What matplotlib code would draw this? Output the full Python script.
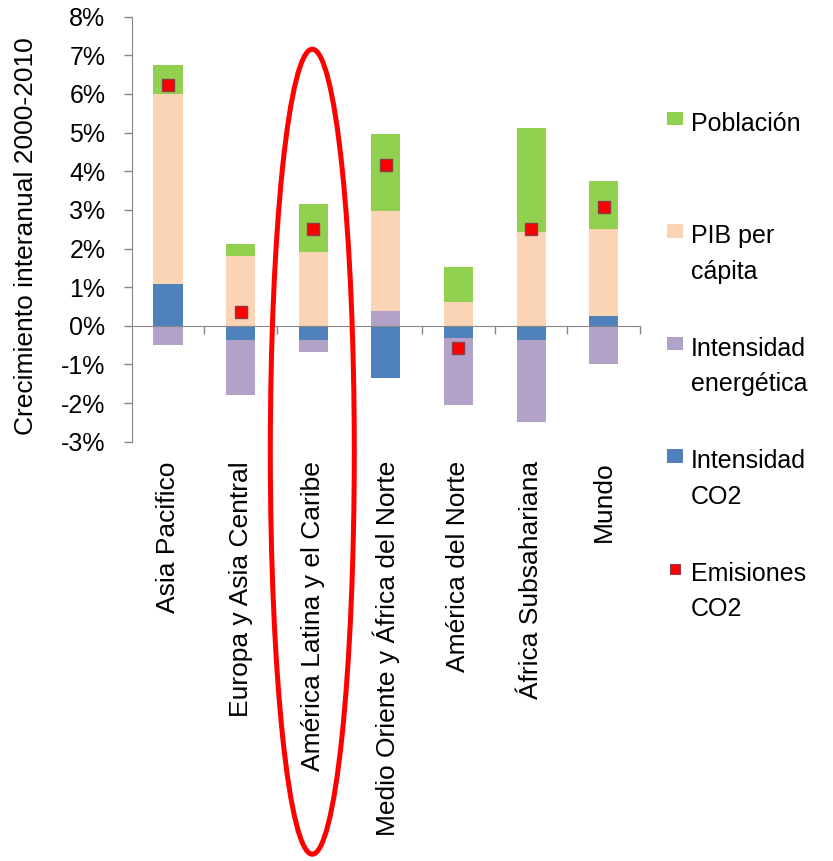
import matplotlib
matplotlib.use("Agg")
import matplotlib.pyplot as plt
import numpy as np
from matplotlib.patches import Ellipse, Patch
from matplotlib.lines import Line2D
from matplotlib.ticker import FuncFormatter

plt.rcParams['font.family'] = ['Liberation Sans', 'DejaVu Sans']

# ---------------- data (percentage points, 2000-2010 annual growth) ----------------
categories = ["Asia Pacifico", "Europa y Asia Central", "América Latina y el Caribe",
              "Medio Oriente y África del Norte", "América del Norte",
              "África Subsahariana", "Mundo"]
poblacion = [0.74, 0.31, 1.22, 1.99, 0.92, 2.68, 1.23]
pib_per_capita = [4.93, 1.81, 1.92, 2.59, 0.61, 2.44, 2.25]
intensidad_energetica = [-0.50, -1.41, -0.30, 0.39, -1.74, -2.12, -1.00]
intensidad_co2 = [1.07, -0.37, -0.37, -1.35, -0.31, -0.37, 0.26]
emisiones_co2 = [6.24, 0.35, 2.50, 4.16, -0.57, 2.50, 3.07]

y_ticks = list(range(-3, 9))
y_label = "Crecimiento interanual 2000-2010"
legend_labels = ["Población\n", "PIB per\ncápita", "Intensidad\nenergética",
                 "Intensidad\nCO2", "Emisiones\nCO2"]

c_pob = "#92D050"
c_pib = "#FAD4B4"
c_ene = "#B3A2C7"
c_co2 = "#4F81BD"
c_emi = "#FF0000"
grey = "#868686"

W, H = 833, 861
fig = plt.figure(figsize=(W / 100, H / 100), dpi=100)
fig.patch.set_facecolor("white")
ax = fig.add_axes([131.7 / W, 1 - 441.7 / H, (640 - 131.7) / W, (441.7 - 16.7) / H])

x = np.arange(len(categories))
n = len(categories)
pos = np.zeros(n)
neg = np.zeros(n)
for vals, color in [(intensidad_co2, c_co2), (intensidad_energetica, c_ene),
                    (pib_per_capita, c_pib), (poblacion, c_pob)]:
    v = np.asarray(vals, dtype=float)
    bottom = np.where(v >= 0, pos, neg)
    ax.bar(x, v, 0.4, bottom=bottom, color=color, linewidth=0, zorder=2)
    pos += np.where(v >= 0, v, 0)
    neg += np.where(v < 0, v, 0)

ax.scatter(x, emisiones_co2, marker="s", s=68, color=c_emi,
           edgecolors="#8E3B46", linewidths=1.0, zorder=4)

ax.set_xlim(-0.5, n - 0.5)
ax.set_ylim(-3, 8)
ax.set_yticks(y_ticks)
ax.yaxis.set_major_formatter(FuncFormatter(lambda v, p: f"{v:.0f}%"))
ax.tick_params(axis="y", direction="out", length=6, width=1, color=grey,
               labelsize=18, pad=13)

ax.set_xticks(np.arange(0.5, n, 1.0))
ax.set_xticklabels([])
ax.tick_params(axis="x", direction="out", length=6, width=1, color=grey)

for s in ["top", "right"]:
    ax.spines[s].set_visible(False)
ax.spines["left"].set_color(grey)
ax.spines["bottom"].set_color(grey)
ax.spines["bottom"].set_position(("data", 0))

sec = ax.secondary_xaxis(0)
sec.set_xticks(x, labels=categories)
sec.tick_params(length=0, pad=14, labelsize=19, labelrotation=90)
sec.spines["bottom"].set_visible(False)

ax.set_ylabel(y_label, fontsize=19)
ax.yaxis.set_label_coords(-0.184, 0.483)

handles = [Patch(facecolor=c_pob, edgecolor="none"),
           Patch(facecolor=c_pib, edgecolor="none"),
           Patch(facecolor=c_ene, edgecolor="none"),
           Patch(facecolor=c_co2, edgecolor="none"),
           Line2D([], [], linestyle="none", marker="s", markersize=6.5,
                  markerfacecolor=c_emi, markeredgecolor="#8E3B46", markeredgewidth=0.8)]
leg = ax.legend(handles, legend_labels, loc="upper left",
                bbox_to_anchor=(667 / W, 1 - 112 / H), bbox_transform=fig.transFigure,
                frameon=False, fontsize=18, handlelength=0.65, handleheight=0.45,
                handletextpad=0.3, labelspacing=2.12, borderpad=0, borderaxespad=0)
for t in leg.get_texts():
    t.set_linespacing(1.6)
try:
    for col in leg._legend_handle_box.get_children():
        for item in col.get_children():
            item.align = "top"
except Exception:
    pass

fig.add_artist(Ellipse((312.3 / W, 1 - 451.7 / H), 84 / W, 805 / H,
                       transform=fig.transFigure, fill=False,
                       edgecolor="#FF0000", linewidth=3.6, zorder=10))

fig.savefig("out.png", dpi=100, facecolor="white")
